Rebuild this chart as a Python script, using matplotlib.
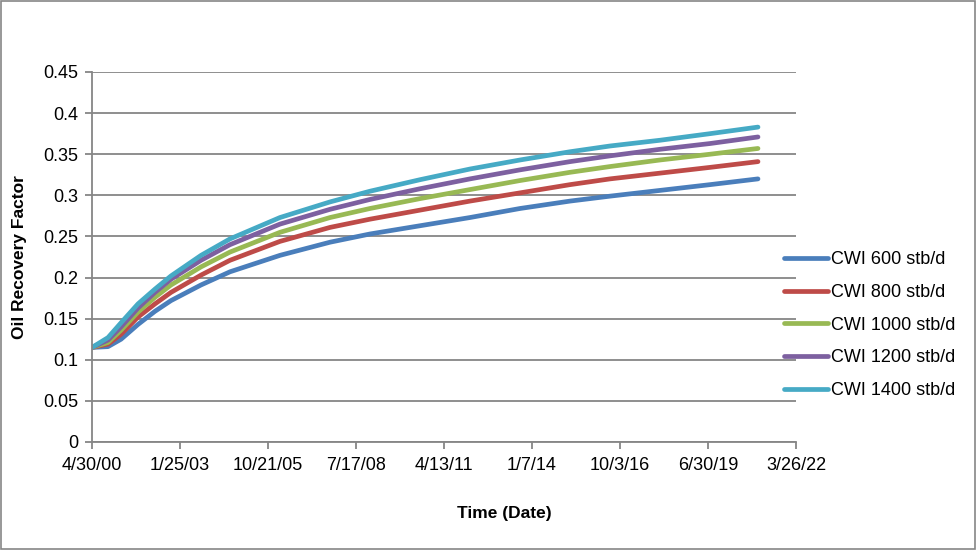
import matplotlib
matplotlib.use("Agg")
import matplotlib.pyplot as plt
import pandas as pd

plt.rcParams['font.family'] = ['Liberation Sans', 'DejaVu Sans']

# days after 4/30/2000
days = [0, 182, 330, 523, 716, 898, 1239, 1568, 2136, 2705, 3159, 3727, 4295, 4864, 5432, 5886, 6455, 7023, 7568]
cwi600 = [0.115, 0.116, 0.125, 0.143, 0.159, 0.172, 0.191, 0.207, 0.227, 0.243, 0.253, 0.263, 0.273, 0.284, 0.293, 0.299, 0.306, 0.313, 0.320]
cwi800 = [0.115, 0.119, 0.131, 0.152, 0.168, 0.182, 0.203, 0.221, 0.244, 0.261, 0.271, 0.282, 0.293, 0.303, 0.313, 0.320, 0.327, 0.334, 0.341]
cwi1000 = [0.115, 0.121, 0.136, 0.158, 0.176, 0.191, 0.213, 0.231, 0.255, 0.273, 0.284, 0.296, 0.307, 0.318, 0.328, 0.335, 0.343, 0.350, 0.357]
cwi1200 = [0.115, 0.124, 0.140, 0.163, 0.182, 0.198, 0.221, 0.240, 0.265, 0.283, 0.295, 0.308, 0.320, 0.331, 0.341, 0.348, 0.356, 0.363, 0.371]
cwi1400 = [0.115, 0.127, 0.145, 0.168, 0.186, 0.202, 0.227, 0.247, 0.273, 0.292, 0.305, 0.319, 0.332, 0.343, 0.353, 0.360, 0.367, 0.375, 0.383]

labels = ["CWI 600 stb/d", "CWI 800 stb/d", "CWI 1000 stb/d", "CWI 1200 stb/d", "CWI 1400 stb/d"]
colors = ["#4A7EBB", "#BE4B48", "#98B954", "#7D60A0", "#46AAC5"]
series = [cwi600, cwi800, cwi1000, cwi1200, cwi1400]

start = pd.Timestamp("2000-04-30")
dates = [start + pd.Timedelta(days=d) for d in days]
tick_dates = [start + pd.Timedelta(days=1000 * i) for i in range(9)]

fig = plt.figure(figsize=(9.77, 5.5), dpi=100)
ax = fig.add_axes([92/977, 1-442/550, (796-92)/977, (442-72)/550])

for vals, lab, col in zip(series, labels, colors):
    ax.plot(dates, vals, color=col, lw=3.4, label=lab,
            solid_capstyle='round', solid_joinstyle='round')

grid_col = "#868686"
ax.set_xlim(tick_dates[0], tick_dates[-1])
ax.set_ylim(0, 0.45)
ax.set_yticks([i * 0.05 for i in range(10)])
ax.set_yticklabels(["0", "0.05", "0.1", "0.15", "0.2", "0.25", "0.3", "0.35", "0.4", "0.45"])
ax.set_xticks(tick_dates)
ax.set_xticklabels([f"{d.month}/{d.day}/{d.strftime('%y')}" for d in tick_dates])
ax.yaxis.grid(True, color=grid_col, lw=1.3)
ax.set_axisbelow(True)
for s in ["top", "right"]:
    ax.spines[s].set_visible(False)
for s in ["left", "bottom"]:
    ax.spines[s].set_color(grid_col)
    ax.spines[s].set_linewidth(1.3)
ax.tick_params(axis="both", colors=grid_col, length=5, width=1.3, labelsize=13, labelcolor="black")
ax.tick_params(axis="x", pad=6)
ax.tick_params(axis="y", pad=5)

ax.set_ylabel("Oil Recovery Factor", fontsize=12.5, fontweight="bold")
ax.yaxis.set_label_coords((27 - 92) / 704, 0.5)
ax.set_xlabel("Time (Date)", fontsize=12.5, fontweight="bold")
ax.xaxis.set_label_coords((504 - 92) / 704, (442 - 506) / 370)

fig.legend(loc="upper left", bbox_to_anchor=(768/977, 1-235/550), frameon=False,
           fontsize=13, handlelength=2.4, handletextpad=0.2, labelspacing=0.87)

fig.patches.append(plt.Rectangle((0.001, 0.002), 0.997, 0.996, transform=fig.transFigure,
                                 fill=False, edgecolor=grid_col, lw=1.2))

fig.savefig("out.png", dpi=100)
